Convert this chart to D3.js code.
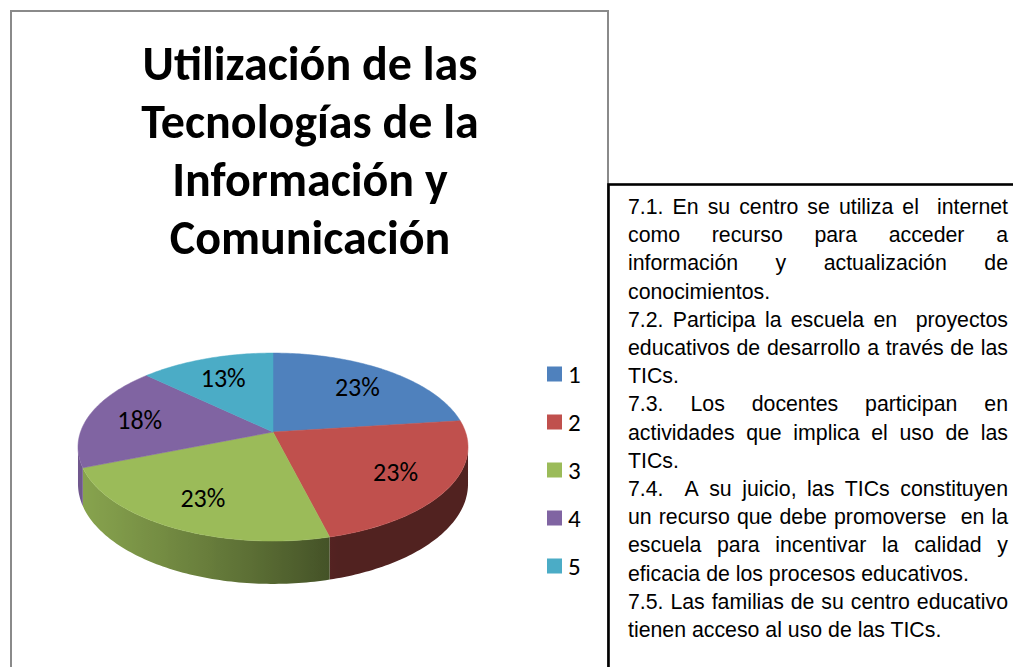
<!DOCTYPE html>
<html><head><meta charset="utf-8">
<script src="https://cdn.jsdelivr.net/npm/d3@7"></script>
<style>html,body{margin:0;padding:0;background:#fff;overflow:hidden}</style>
</head><body>
<svg id="c" width="1013" height="667"></svg>
<script>
const categories = ["1","2","3","4","5"];
const values = [23,23,23,18,13];
const colors = ["#4f81bd","#c0504d","#9bbb59","#8064a2","#4bacc6"];
const titleLines = ["Utilización de las","Tecnologías de la","Información y","Comunicación"];
const noteLines = [
  "7.1. En su centro se utiliza el  internet",
  "como recurso para acceder a",
  "información y actualización de",
  "conocimientos.",
  "7.2. Participa la escuela en  proyectos",
  "educativos de desarrollo a través de las",
  "TICs.",
  "7.3. Los docentes participan en",
  "actividades que implica el uso de las",
  "TICs.",
  "7.4.  A su juicio, las TICs constituyen",
  "un recurso que debe promoverse  en la",
  "escuela para incentivar la calidad y",
  "eficacia de los procesos educativos.",
  "7.5. Las familias de su centro educativo",
  "tienen acceso al uso de las TICs."
];
const noteJustified = [true,true,true,false,true,true,false,true,true,false,true,true,true,false,true,false];

const svg = d3.select("#c");
svg.append("rect").attr("width",1013).attr("height",667).attr("fill","#fff");
const defs = svg.append("defs");

// chart frame
svg.append("rect").attr("x",11).attr("y",11).attr("width",597).attr("height",720)
  .attr("fill","none").attr("stroke","#8a8a8a").attr("stroke-width",2);

// Title
const titleFont = "Carlito, Lato, sans-serif";
const tmp = svg.append("text").attr("font-family",titleFont).attr("font-weight","bold")
  .attr("font-size",100).text(titleLines[0]);
const tw = tmp.node().getComputedTextLength(); tmp.remove();
const titleSize = 100*335/tw;
const titleY = d3.scaleLinear().domain([0,3]).range([80,254]);
svg.append("g").selectAll("text").data(titleLines).join("text")
  .attr("x",310).attr("y",(d,i)=>titleY(i)).attr("text-anchor","middle")
  .attr("font-family",titleFont).attr("font-weight","bold").attr("font-size",titleSize)
  .attr("fill","#000").text(d=>d);

// 3D pie
const cx=273, cy=432, rx=192.5, ry=91.6, p=0.16, depth=36;
function proj(phi, f, dz){
  const u=f*Math.sin(phi), v=f*Math.cos(phi), k=1/(1+p*v);
  return [cx+rx*u*k, cy-ry*v*k+(dz||0)*k];
}
const pie = d3.pie().sort(null).value(d=>d).startAngle(0).endAngle(2*Math.PI);
const arcs = pie(values);
const total = d3.sum(values);
const fmt = d3.format(".0%");
function scaleColor(c,b){const r=d3.rgb(c);return d3.rgb(r.r*b,r.g*b,r.b*b).formatHex();}
function shade(phi){const dot=-0.96*Math.sin(phi)-0.29*Math.cos(phi);return 0.42+0.45*Math.max(0,dot);}

const A = Math.acos(-p), B = 2*Math.PI - A;
const xl = cx - rx*1.02, xr = cx + rx*1.02;
const sideG = svg.append("g");
arcs.forEach((a,i)=>{
  const s0=Math.max(a.startAngle,A), s1=Math.min(a.endAngle,B);
  if(s0>=s1) return;
  const n=Math.max(4,Math.ceil((s1-s0)/(Math.PI/180)));
  const top=[], bot=[];
  for(let j=0;j<=n;j++){
    const f=s0+(s1-s0)*j/n;
    top.push(proj(f,1,0)); bot.push(proj(f,1,depth));
  }
  const gid="side"+i;
  const g=defs.append("linearGradient").attr("id",gid).attr("gradientUnits","userSpaceOnUse")
    .attr("x1",xl).attr("x2",xr).attr("y1",0).attr("y2",0);
  const stops=[];
  for(let j=0;j<=n;j++){
    const f=s0+(s1-s0)*j/n;
    stops.push({o:(top[j][0]-xl)/(xr-xl), c:scaleColor(colors[i],shade(f))});
  }
  stops.sort((m,q)=>m.o-q.o);
  g.selectAll("stop").data(stops).join("stop").attr("offset",d=>Math.max(0,Math.min(1,d.o)))
    .attr("stop-color",d=>d.c);
  const pts=top.concat(bot.reverse());
  sideG.append("path").attr("d","M"+pts.map(q=>q.join(",")).join("L")+"Z")
    .attr("fill",`url(#${gid})`);
});

const topG = svg.append("g");
topG.selectAll("path").data(arcs).join("path")
  .attr("d",a=>{
    const n=Math.max(8,Math.ceil((a.endAngle-a.startAngle)/(Math.PI/180)));
    const pts=[[cx,cy]];
    for(let j=0;j<=n;j++) pts.push(proj(a.startAngle+(a.endAngle-a.startAngle)*j/n,1,0));
    return "M"+pts.map(q=>q.join(",")).join("L")+"Z";
  })
  .attr("fill",(a,i)=>colors[i]).attr("stroke",(a,i)=>colors[i]).attr("stroke-width",0.5);

svg.append("g").selectAll("text").data(arcs).join("text")
  .attr("transform",a=>{const q=proj((a.startAngle+a.endAngle)/2,0.72,0);return `translate(${q[0]},${q[1]})`;})
  .attr("text-anchor","middle").attr("dy","0.36em")
  .attr("font-family","Carlito, Lato, sans-serif").attr("font-size",26).attr("fill","#000")
  .text(a=>fmt(a.data/total));

// Legend
const ly = d3.scalePoint().domain(categories).range([374,566]);
const lg = svg.append("g").selectAll("g").data(categories).join("g")
  .attr("transform",d=>`translate(547,${ly(d)})`);
lg.append("rect").attr("x",0).attr("y",-7.5).attr("width",15).attr("height",15)
  .attr("fill",(d,i)=>colors[i]);
lg.append("text").attr("x",21).attr("dy","0.36em").attr("font-family","Carlito, Lato, sans-serif")
  .attr("font-size",25).attr("fill","#000").text(d=>d);

// Text box
svg.append("rect").attr("x",608.5).attr("y",184.5).attr("width",500).attr("height",600)
  .attr("fill","#fff").attr("stroke","#000").attr("stroke-width",2.6);

const noteFont = "'Liberation Sans', Arial, sans-serif";
const t2 = svg.append("text").attr("font-family",noteFont).attr("font-size",100).text(noteLines[13]);
const w2 = t2.node().getComputedTextLength(); t2.remove();
const noteSize = 100*341/w2;
const noteY = d3.scaleLinear().domain([0,15]).range([214,637]);
const x0=628, x1=1008;
const ng = svg.append("g").attr("font-family",noteFont).attr("font-size",noteSize).attr("fill","#000");
noteLines.forEach((line,i)=>{
  const y=noteY(i);
  if(!noteJustified[i]){
    ng.append("text").attr("x",x0).attr("y",y).text(line);
    return;
  }
  const words=line.split(" ");
  const widths=words.map(w=>{
    if(!w) return 0;
    const t=ng.append("text").text(w); const L=t.node().getComputedTextLength(); t.remove(); return L;
  });
  const gap=(x1-x0-d3.sum(widths))/(words.length-1);
  let x=x0;
  words.forEach((w,j)=>{
    if(w) ng.append("text").attr("x",x).attr("y",y).text(w);
    x+=widths[j]+gap;
  });
});
</script>
</body></html>
